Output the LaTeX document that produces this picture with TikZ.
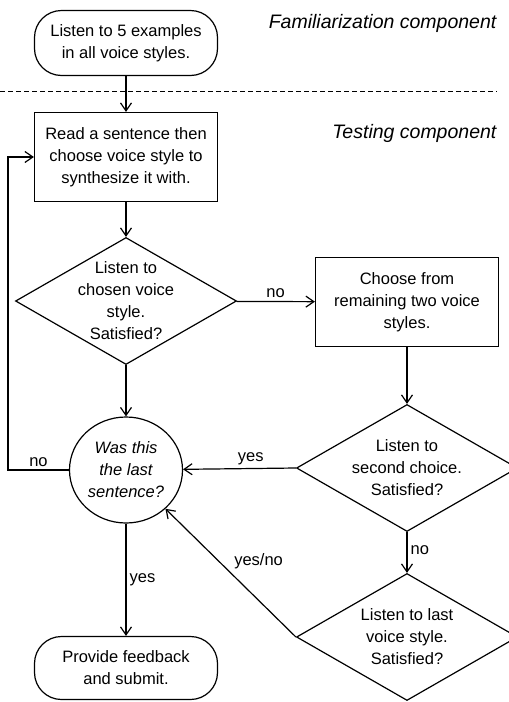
\documentclass[tikz,border=0pt]{standalone}
\usepackage{fontspec}
\setmainfont{Liberation Sans}
\usetikzlibrary{arrows.meta,positioning,shapes.geometric}

\begin{document}
\begin{tikzpicture}[
  x=1pt, y=-1pt,
  >={Straight Barb[length=8pt,width=11pt]},
  every path/.style={line width=1.2pt},
  base/.style={draw, align=center, font=\fontsize{16.5}{22}\selectfont},
  term/.style={base, rectangle, rounded corners=27pt, minimum width=183pt, minimum height=65pt},
  box/.style={base, rectangle, minimum width=183pt, minimum height=89pt},
  decide/.style={base, diamond, inner sep=-20pt, minimum width=221pt, minimum height=127pt},
  check/.style={base, ellipse, inner sep=-12pt, minimum width=113pt, minimum height=106pt, font=\fontsize{16.5}{22}\selectfont\itshape},
  part/.style={font=\fontsize{19.5}{22}\selectfont\itshape, anchor=base east, inner sep=0pt},
  lbl/.style={font=\fontsize{16.5}{22}\selectfont, inner sep=3pt}
]
\useasboundingbox (0,0) rectangle (509,702);

% familiarization
\node[term] (start) at (126,43) {Listen to 5 examples\\in all voice styles.};
\node[part] (fam) at (497,28) {Familiarization component};
\draw[dashed, dash pattern=on 5pt off 3pt, line width=0.8pt] (0,91) -- (497,91);

% testing
\node[part] (test) at (497,138) {Testing component};
\node[box] (read) at (126,157) {Read a sentence then\\choose voice style to\\synthesize it with.};
\node[decide] (first) at (126,301) {Listen to\\chosen voice\\style.\\Satisfied?};
\node[box] (other) at (407,302) {Choose from\\remaining two voice\\styles.};
\node[decide] (second) at (407,468) {Listen to\\second choice.\\Satisfied?};
\node[decide] (third) at (407,637) {Listen to last\\voice style.\\Satisfied?};
\node[check] (last) at (126,470) {Was this\\the last\\sentence?};
\node[term, minimum height=63pt] (submit) at (126,668) {Provide feedback\\and submit.};
\coordinate (loop) at (8,0);

\draw[->] (start) -- (read);
\draw[->] (read) -- (first);
\draw[->] (first) -- node[lbl, above]{no} (other);
\draw[->] (other) -- (second);
\draw[->] (first) -- (last);
\draw[->] (second.west) -- node[lbl, above, pos=0.4]{yes} (last);
\draw[->] (second) -- node[lbl, right, pos=0.45]{no} (third);
\draw[->] (third.west) -- node[lbl, above right]{yes/no} (last);
\draw[->] (last.west) -- node[lbl, above]{no} (last.west -| loop) |- (read.west);
\draw[->] (last) -- node[lbl, right]{yes} (submit);
\end{tikzpicture}
\end{document}
